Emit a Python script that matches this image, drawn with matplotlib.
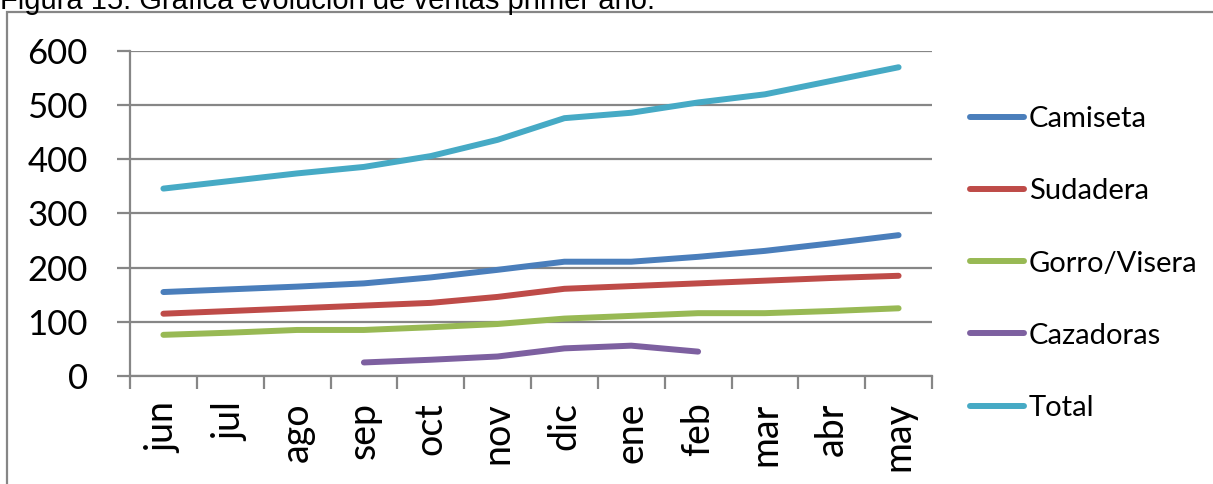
import numpy as np
import matplotlib
matplotlib.use("Agg")
import matplotlib.pyplot as plt
from matplotlib.patches import Rectangle

meses = ["jun", "jul", "ago", "sep", "oct", "nov", "dic", "ene", "feb", "mar", "abr", "may"]

camiseta = [155, 160, 165, 171, 182, 196, 211, 211, 220, 231, 245, 260]
sudadera = [115, 120, 125, 130, 135, 146, 161, 166, 171, 176, 181, 185]
gorro_visera = [76, 80, 85, 85, 90, 96, 106, 111, 116, 116, 120, 125]
cazadoras = [np.nan, np.nan, np.nan, 25, 30, 36, 51, 56, 45, np.nan, np.nan, np.nan]
total = [346, 360, 374, 386, 406, 436, 476, 486, 505, 520, 545, 570]

series = [
    ("Camiseta", camiseta, "#4A7EBB"),
    ("Sudadera", sudadera, "#BE4B48"),
    ("Gorro/Visera", gorro_visera, "#98B954"),
    ("Cazadoras", cazadoras, "#7D60A0"),
    ("Total", total, "#46AAC5"),
]

W, H = 1213, 484
fig = plt.figure(figsize=(W / 100, H / 100), dpi=100)
ax = fig.add_axes([130 / W, 1 - 376 / H, (932 - 130) / W, (376 - 51) / H])

grid_c = "#868686"
x = np.arange(len(meses))
for nombre, vals, col in series:
    ax.plot(x, vals, color=col, lw=4.3, solid_capstyle="round",
            solid_joinstyle="round", label=nombre)

ax.set_xlim(-0.5, len(meses) - 0.5)
ax.set_ylim(0, 600)
ax.set_yticks(range(0, 601, 100))
ax.yaxis.grid(True, color=grid_c, lw=1.6)
ax.set_axisbelow(True)

ax.set_xticks(x)
ax.set_xticklabels(meses, rotation=90, fontsize=27, family="Lato")
ax.set_xticks(np.arange(-0.5, len(meses)), minor=True)
ax.tick_params(axis="x", which="major", length=0, pad=19)
ax.tick_params(axis="x", which="minor", length=9.4, width=1.6, color=grid_c, direction="out")
ax.tick_params(axis="y", length=9.4, width=1.6, color=grid_c, labelsize=25, pad=21)
for lab in ax.get_yticklabels():
    lab.set_family("Lato")

for s in ["top", "right"]:
    ax.spines[s].set_visible(False)
for s in ["left", "bottom"]:
    ax.spines[s].set_color(grid_c)
    ax.spines[s].set_linewidth(1.6)

leg = ax.legend(loc="center left", bbox_to_anchor=(1.033, 0.346), frameon=False,
                prop={"family": "Lato", "size": 21}, handlelength=1.85,
                handletextpad=0.17, labelspacing=1.58, borderaxespad=0)

# marco exterior del gráfico
fig.patches.append(Rectangle((7 / W, -0.1), 1.2, 1 - 12 / H + 0.1, transform=fig.transFigure,
                             fill=False, edgecolor=grid_c, lw=1.6))

fig.text(0, 1 - 9 / H, "Figura 15: Gráfica evolución de ventas primer año.",
         fontsize=21, family="Liberation Sans", va="baseline", ha="left")

fig.savefig("out.png", dpi=100)
